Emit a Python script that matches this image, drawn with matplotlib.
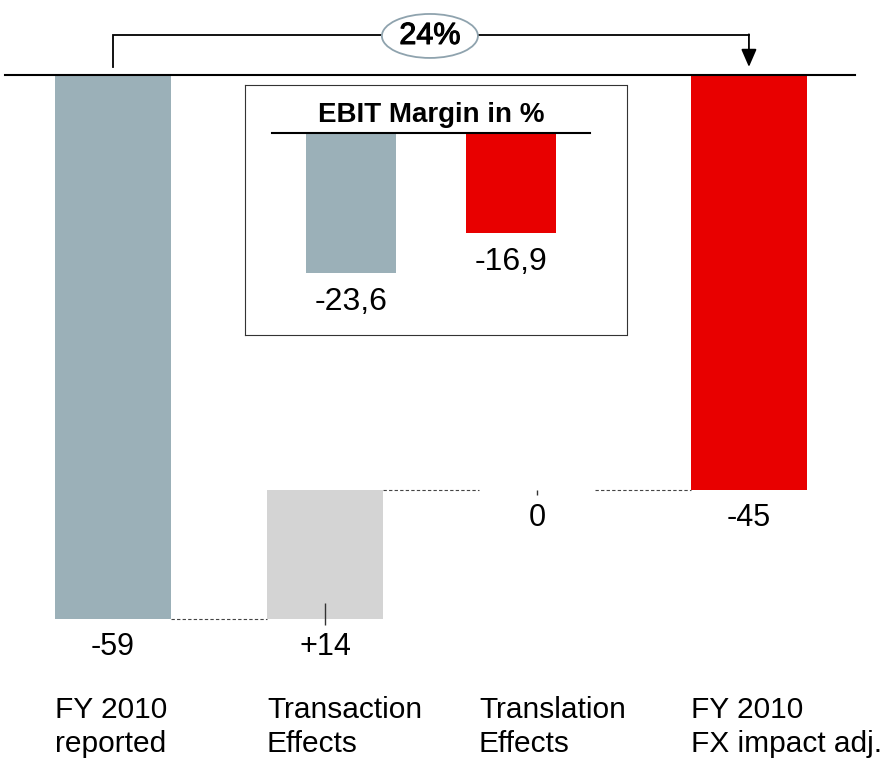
import numpy as np
import matplotlib.pyplot as plt
import matplotlib.patheffects as pe
from matplotlib.patches import Ellipse

plt.rcParams['font.family'] = ['Liberation Sans', 'DejaVu Sans']

# data
categories = ['FY 2010\nreported', 'Transaction\nEffects', 'Translation\nEffects', 'FY 2010\nFX impact adj.']
values = [-59, 14, 0, -45]
value_labels = ['-59', '+14', '0', '-45']
is_total = [True, False, False, True]
colors = ['#9bb0b8', '#d4d4d4', '#d4d4d4', '#e80000']

inset_values = [-23.6, -16.9]
inset_labels = ['-23,6', '-16,9']
inset_colors = ['#9bb0b8', '#e80000']
inset_title = 'EBIT Margin in %'
change_label = '24%'

fig = plt.figure(figsize=(8.88, 7.59), dpi=100)
ax = fig.add_axes([0, 0, 1, 1])
ax.set_xlim(-0.533, 3.656)
ax.set_ylim(-74.2, 8.13)
ax.axis('off')

x = np.arange(len(values))
w = 0.547

# waterfall bottoms/tops
bottoms, tops = [], []
level = 0
for v, tot in zip(values, is_total):
    if tot:
        bottoms.append(v)
        tops.append(0)
        level = v
    else:
        bottoms.append(level)
        tops.append(level + v)
        level = level + v
bottoms = np.array(bottoms)
tops = np.array(tops)

ax.bar(x, tops - bottoms, bottom=bottoms, width=w, color=colors, zorder=2)

# zero line
ax.plot([-0.509, 3.5], [0, 0], color='black', lw=1.5, zorder=3)

# connectors
for i in range(len(values) - 1):
    lvl = bottoms[i] if (is_total[i] or values[i] == 0) else tops[i]
    ax.plot([x[i] + w / 2, x[i + 1] - w / 2], [lvl, lvl], color='#444444',
            lw=0.8, ls=(0, (3, 2)), zorder=1)

# small markers on delta bars
ax.vlines(x[1], bottoms[1] - 0.7, bottoms[1] + 1.7, color='#333333', lw=1)
ax.vlines(x[2], bottoms[2] - 0.6, bottoms[2], color='#333333', lw=1)

# value labels
for i, lab in enumerate(value_labels):
    ax.annotate(lab, (x[i], bottoms[i]), xytext=(0, -26.3), textcoords='offset points',
                ha='center', va='baseline', fontsize=22)

# category labels
for i, cat in enumerate(categories):
    for j, line in enumerate(cat.split('\n')):
        ax.text(x[i] - w / 2, -69.75 - 3.69 * j, line, ha='left', va='baseline', fontsize=21.5)

# bracket with arrow
yb = 4.34
ax.plot([x[0], x[0], x[3]], [0.87, yb, yb], color='black', lw=1.3, zorder=3,
        solid_joinstyle='miter')
ax.annotate('', xy=(x[3], 0.87), xytext=(x[3], yb + 0.07),
            arrowprops=dict(arrowstyle='-|>,head_length=0.54,head_width=0.235',
                            color='black', lw=1.3, mutation_scale=20,
                            shrinkA=0, shrinkB=0),
            zorder=3)
ax.add_patch(Ellipse((1.495, 4.23), 0.453, 4.77, facecolor='white', edgecolor='#8fa3ae',
                     lw=1.3, zorder=4))
ax.text(1.495, 4.23, change_label, ha='center', va='center', fontsize=22, zorder=5,
        path_effects=[pe.withStroke(linewidth=0.8, foreground='black')])

# inset
ins = fig.add_axes([245 / 888, 1 - 335 / 759, 382 / 888, 250 / 759])
ins.set_xlim(-0.6625, 1.725)
ins.set_ylim(-34.06, 8.09)
ins.set_xticks([])
ins.set_yticks([])
for s in ins.spines.values():
    s.set_linestyle((0, (1, 1)))
    s.set_linewidth(0.8)
    s.set_color('#333333')
xi = np.arange(len(inset_values))
ins.bar(xi, inset_values, width=0.5625, color=inset_colors, zorder=2)
ins.plot([-0.494, 1.494], [0, 0], color='black', lw=1.5, zorder=3)
for i, lab in enumerate(inset_labels):
    ins.annotate(lab, (xi[i], inset_values[i]), xytext=(0, -26.6), textcoords='offset points',
                 ha='center', va='baseline', fontsize=23)
ins.text(0.5, 1.85, inset_title, ha='center', va='baseline', fontsize=20, fontweight='bold')

fig.savefig('out.png', dpi=100)
